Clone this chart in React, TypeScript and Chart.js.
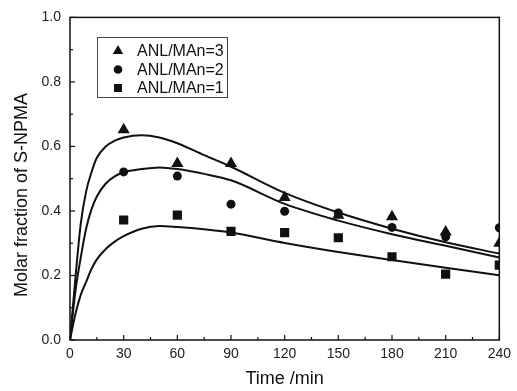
import { useEffect, useRef } from "react";
import { Chart, registerables } from "chart.js";

Chart.register(...registerables);

// Experimental sampling times (min)
const sampleTimes = [30, 60, 90, 120, 150, 180, 210, 240];
// Measured molar fraction of S-NPMA
const ratio3Points = [0.652, 0.547, 0.547, 0.442, 0.387, 0.382, 0.335, 0.3];
const ratio2Points = [0.521, 0.508, 0.421, 0.399, 0.394, 0.349, 0.32, 0.348];
const ratio1Points = [0.372, 0.387, 0.337, 0.333, 0.317, 0.258, 0.204, 0.232];

// Fitted model curves
const curveTimes = [0, 3, 6, 9, 12, 15, 20, 25, 30, 40, 50, 60, 75, 90, 120, 150, 180, 210, 240];
const ratio3Curve = [0, 0.19, 0.36, 0.46, 0.52, 0.565, 0.6, 0.618, 0.628, 0.635, 0.628, 0.61, 0.573, 0.537, 0.456, 0.395, 0.345, 0.303, 0.268];
const ratio2Curve = [0, 0.15, 0.255, 0.345, 0.405, 0.445, 0.485, 0.507, 0.52, 0.53, 0.535, 0.53, 0.515, 0.495, 0.422, 0.37, 0.328, 0.292, 0.256];
const ratio1Curve = [0, 0.08, 0.14, 0.18, 0.22, 0.25, 0.282, 0.305, 0.322, 0.345, 0.353, 0.35, 0.343, 0.333, 0.301, 0.273, 0.248, 0.224, 0.201];

const xTicks = [0, 30, 60, 90, 120, 150, 180, 210, 240];
const yTicks = [0, 0.2, 0.4, 0.6, 0.8, 1.0];

const legendLabels = ["ANL/MAn=3", "ANL/MAn=2", "ANL/MAn=1"];
const legendShapes = ["triangle", "circle", "rect"];

const FONT = "'Liberation Sans', Arial, sans-serif";
const INK = "#111";

function toXY(xs: number[], ys: number[]) {
  return xs.map((x, i) => ({ x, y: ys[i] }));
}

function drawShape(ctx: CanvasRenderingContext2D, shape: string, x: number, y: number) {
  ctx.beginPath();
  if (shape === "triangle") {
    const r = 6;
    ctx.moveTo(x, y - r);
    ctx.lineTo(x + r * 0.866, y + r * 0.5);
    ctx.lineTo(x - r * 0.866, y + r * 0.5);
    ctx.closePath();
  } else if (shape === "circle") {
    ctx.arc(x, y, 4.3, 0, Math.PI * 2);
  } else {
    ctx.rect(x - 4, y - 4, 8, 8);
  }
  ctx.fill();
}

const framePlugin = {
  id: "framePlugin",
  afterDraw(chart: any) {
    const { ctx, chartArea, scales } = chart;
    const { left, right, top, bottom } = chartArea;
    ctx.save();
    ctx.strokeStyle = INK;
    ctx.lineWidth = 1.5;
    ctx.strokeRect(left, top, right - left, bottom - top);

    // inward ticks on x
    ctx.lineWidth = 1.2;
    const xs = scales.x;
    for (let v = 0; v <= 240; v += 15) {
      const px = xs.getPixelForValue(v);
      const len = v % 30 === 0 ? 5 : 3;
      ctx.beginPath();
      ctx.moveTo(px, bottom);
      ctx.lineTo(px, bottom - len);
      ctx.stroke();
    }
    // inward ticks on y
    const ys = scales.y;
    for (let i = 0; i <= 10; i++) {
      const py = ys.getPixelForValue(i / 10);
      const len = i % 2 === 0 ? 5 : 3;
      ctx.beginPath();
      ctx.moveTo(left, py);
      ctx.lineTo(left + len, py);
      ctx.stroke();
    }

    // axis titles
    ctx.fillStyle = INK;
    ctx.font = `18px ${FONT}`;
    ctx.textAlign = "center";
    ctx.textBaseline = "middle";
    ctx.fillText("Time /min", (left + right) / 2, 379);
    ctx.save();
    ctx.translate(22, 195);
    ctx.rotate(-Math.PI / 2);
    ctx.fillText("Molar fraction of S-NPMA", 0, 0);
    ctx.restore();

    // legend
    ctx.strokeStyle = "#444";
    ctx.lineWidth = 1;
    ctx.strokeRect(97.5, 37.5, 130, 60);
    ctx.font = `16px ${FONT}`;
    ctx.textAlign = "left";
    const rows = [51, 69.5, 88];
    legendLabels.forEach((label, i) => {
      ctx.fillStyle = INK;
      drawShape(ctx, legendShapes[i], 118, rows[i]);
      ctx.fillText(label, 137, rows[i] + 1);
    });
    ctx.restore();
  },
};

export default function App() {
  const ref = useRef<HTMLCanvasElement | null>(null);

  useEffect(() => {
    if (!ref.current) return;
    const curveStyle = {
      showLine: true,
      borderColor: INK,
      borderWidth: 2,
      pointRadius: 0,
      cubicInterpolationMode: "monotone" as const,
      fill: false,
    };
    const pointStyleBase = {
      showLine: false,
      backgroundColor: INK,
      borderColor: INK,
      borderWidth: 0,
    };
    const chart = new Chart(ref.current, {
      type: "scatter",
      data: {
        datasets: [
          { ...curveStyle, label: "fit3", data: toXY(curveTimes, ratio3Curve) },
          { ...curveStyle, label: "fit2", data: toXY(curveTimes, ratio2Curve) },
          { ...curveStyle, label: "fit1", data: toXY(curveTimes, ratio1Curve) },
          { ...pointStyleBase, label: legendLabels[0], data: toXY(sampleTimes, ratio3Points), pointStyle: "triangle", pointRadius: 7 },
          { ...pointStyleBase, label: legendLabels[1], data: toXY(sampleTimes, ratio2Points), pointStyle: "circle", pointRadius: 4.5 },
          { ...pointStyleBase, label: legendLabels[2], data: toXY(sampleTimes, ratio1Points), pointStyle: "rect", pointRadius: 6.5 },
        ],
      },
      options: {
        animation: false,
        responsive: false,
        devicePixelRatio: 1,
        layout: { padding: { left: 0, right: 14, top: 17, bottom: 0 } },
        plugins: {
          legend: { display: false },
          tooltip: { enabled: false },
        },
        scales: {
          x: {
            type: "linear",
            min: 0,
            max: 240,
            afterFit: (s: any) => { s.height = 51; },
            afterBuildTicks: (s: any) => { s.ticks = xTicks.map((v) => ({ value: v })); },
            grid: { display: false, drawTicks: false },
            border: { display: false },
            ticks: {
              padding: 6,
              color: "#222",
              font: { family: FONT, size: 14 },
              maxRotation: 0,
              callback: (v: any) => String(v),
            },
          },
          y: {
            type: "linear",
            min: 0,
            max: 1,
            afterFit: (s: any) => { s.width = 70; },
            afterBuildTicks: (s: any) => { s.ticks = yTicks.map((v) => ({ value: v })); },
            grid: { display: false, drawTicks: false },
            border: { display: false },
            ticks: {
              padding: 9,
              color: "#222",
              font: { family: FONT, size: 14 },
              callback: (v: any) => Number(v).toFixed(1),
            },
          },
        },
      },
      plugins: [framePlugin],
    });
    return () => chart.destroy();
  }, []);

  return (
    <div style={{ position: "fixed", left: 0, top: 0, width: 517, height: 391, background: "#fff" }}>
      <canvas ref={ref} width={517} height={391} />
    </div>
  );
}
